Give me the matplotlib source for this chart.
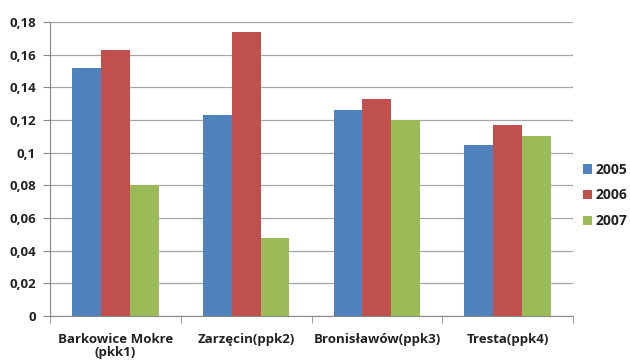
import matplotlib
matplotlib.use("Agg")
import matplotlib.pyplot as plt
import numpy as np
from matplotlib.ticker import FuncFormatter, FixedLocator

categories = ["Barkowice Mokre\n(pkk1)", "Zarzęcin(ppk2)", "Bronisławów(ppk3)", "Tresta(ppk4)"]
years = ["2005", "2006", "2007"]
values_2005 = [0.152, 0.123, 0.126, 0.105]
values_2006 = [0.163, 0.174, 0.133, 0.117]
values_2007 = [0.080, 0.048, 0.120, 0.110]
colors = ["#4F81BD", "#C0504D", "#9BBB59"]

plt.rcParams["font.family"] = ["Open Sans", "DejaVu Sans"]
plt.rcParams["font.weight"] = "bold"

fig = plt.figure(figsize=(6.3, 3.63), dpi=100)
ax = fig.add_axes([50 / 630, 1 - 316 / 363, 523 / 630, 294 / 363])

x = np.arange(len(categories))
width = 0.22
for i, (vals, lab) in enumerate(zip([values_2005, values_2006, values_2007], years)):
    ax.bar(x + (i - 1) * width, vals, width, color=colors[i], label=lab, zorder=3)

ax.set_xlim(-0.5, len(categories) - 0.5)
ax.set_ylim(0, 0.18)
ax.set_yticks(np.arange(0, 0.181, 0.02))
ax.yaxis.set_major_formatter(
    FuncFormatter(lambda v, p: ("%g" % round(v, 2)).replace(".", ","))
)
ax.grid(axis="y", color="#A6A6A6", linewidth=0.9, zorder=0)

ax.set_xticks(x)
ax.set_xticklabels(categories, fontsize=9.5, fontweight="bold", color="#222222",
                   linespacing=1.05)
ax.xaxis.set_minor_locator(FixedLocator(np.arange(-0.5, len(categories), 1.0)))
ax.tick_params(axis="x", which="major", length=0, pad=12)
ax.tick_params(axis="x", which="minor", length=5, color="#888888", direction="out")
ax.tick_params(axis="y", length=5, color="#888888", labelsize=9.5, pad=5, labelcolor="#222222")

for s in ["top", "right"]:
    ax.spines[s].set_visible(False)
for s in ["left", "bottom"]:
    ax.spines[s].set_color("#888888")

leg = ax.legend(loc="center left", bbox_to_anchor=(1.0, 0.41), frameon=False,
                fontsize=10, handlelength=0.7, handleheight=0.7, handletextpad=0.25,
                labelspacing=0.85, borderaxespad=0.3)
for t in leg.get_texts():
    t.set_fontweight("bold")
    t.set_color("#222222")

fig.savefig("out.png", dpi=100)
